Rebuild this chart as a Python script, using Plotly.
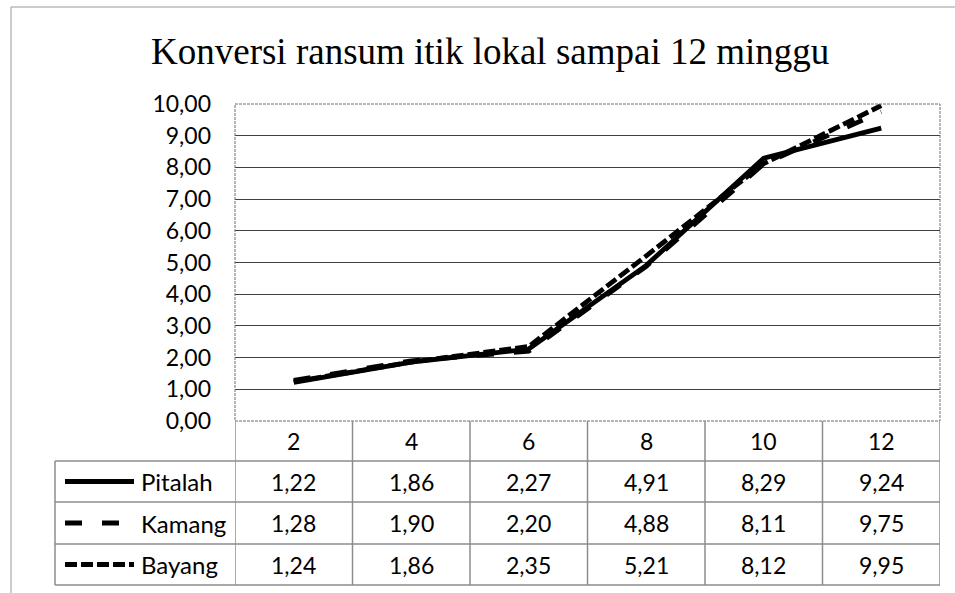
import plotly.graph_objects as go

# Feed conversion of local ducks over 12 weeks
weeks = ["2", "4", "6", "8", "10", "12"]
series_names = ["Pitalah", "Kamang", "Bayang"]
pitalah = [1.22, 1.86, 2.27, 4.91, 8.29, 9.24]
kamang = [1.28, 1.90, 2.20, 4.88, 8.11, 9.75]
bayang = [1.24, 1.86, 2.35, 5.21, 8.12, 9.95]
y_ticks = [0, 1, 2, 3, 4, 5, 6, 7, 8, 9, 10]

series_values = [pitalah, kamang, bayang]
series_dash = ["solid", "17px,20px", "12px,4px"]

W, H = 955, 593
PL, PR, PT, PB = 235, 940, 104, 421  # plot area edges in pixels


def fx(p):
    return (p - PL) / (PR - PL)


def fy(p):
    return (PB - p) / (PB - PT)


TXT = "Lato, 'Open Sans', sans-serif"
GRID = "#8c8c8c"

fig = go.Figure()
for name, vals, dash in zip(series_names, series_values, series_dash):
    fig.add_trace(go.Scatter(
        x=weeks, y=vals, name=name, mode="lines",
        line=dict(color="black", width=4.8, dash=dash),
        cliponaxis=False, showlegend=False,
    ))

shapes = []
annotations = []

# chart area frame
shapes.append(dict(type="rect", xref="paper", yref="paper",
                   x0=fx(11), x1=fx(970), y0=fy(7), y1=fy(610),
                   line=dict(color="#9a9a9a", width=1), layer="below"))
# hide the solid grid at 0 and 10 under the dashed plot frame
for yv in (0, 1):
    shapes.append(dict(type="line", xref="paper", yref="paper",
                       x0=0, x1=1, y0=yv, y1=yv,
                       line=dict(color="white", width=2), layer="between"))
# dashed plot area frame
shapes.append(dict(type="rect", xref="paper", yref="paper",
                   x0=0, x1=1, y0=0, y1=1,
                   line=dict(color="#6f6f6f", width=1, dash="3px,1px")))

# data table
row_edges = [421, 461, 502, 544, 585]
for p in row_edges[1:]:
    shapes.append(dict(type="line", xref="paper", yref="paper",
                       x0=fx(55), x1=1, y0=fy(p), y1=fy(p),
                       line=dict(color=GRID, width=1.5)))
for j in range(len(weeks) + 1):
    shapes.append(dict(type="line", xref="x", yref="paper",
                       x0=j - 0.5, x1=j - 0.5, y0=fy(421), y1=fy(585),
                       line=dict(color=GRID, width=1.5)))
shapes.append(dict(type="line", xref="paper", yref="paper",
                   x0=fx(55), x1=fx(55), y0=fy(461), y1=fy(585),
                   line=dict(color=GRID, width=1.5)))

# header row: week numbers
hc = (row_edges[0] + row_edges[1]) / 2
for j, w in enumerate(weeks):
    annotations.append(dict(x=j, y=fy(hc), xref="x", yref="paper", text=w,
                            showarrow=False, xanchor="center", yanchor="middle",
                            font=dict(family=TXT, size=23, color="black")))

# value rows with legend keys
for i, (name, vals, dash) in enumerate(zip(series_names, series_values, series_dash)):
    rc = (row_edges[i + 1] + row_edges[i + 2]) / 2
    shapes.append(dict(type="line", xref="paper", yref="paper",
                       x0=fx(65), x1=fx(134), y0=fy(rc), y1=fy(rc),
                       line=dict(color="black", width=4.8, dash=dash)))
    annotations.append(dict(x=fx(139), y=fy(rc), xref="paper", yref="paper",
                            text=name, showarrow=False, xanchor="left", yanchor="middle",
                            font=dict(family=TXT, size=24, color="black")))
    for j, v in enumerate(vals):
        annotations.append(dict(x=j, y=fy(rc), xref="x", yref="paper",
                                text=f"{v:.2f}".replace(".", ","), showarrow=False,
                                xanchor="center", yanchor="middle",
                                font=dict(family=TXT, size=23, color="black")))

# title
annotations.append(dict(x=fx(490), y=fy(52), xref="paper", yref="paper",
                        text="Konversi ransum itik lokal sampai 12 minggu",
                        showarrow=False, xanchor="center", yanchor="middle",
                        font=dict(family="'Liberation Serif', 'Times New Roman', serif",
                                  size=37, color="black")))

fig.update_layout(
    width=W, height=H,
    margin=dict(l=PL, r=W - PR, t=PT, b=H - PB, pad=0),
    paper_bgcolor="white", plot_bgcolor="white",
    separators=",.",
    shapes=shapes, annotations=annotations,
    xaxis=dict(type="category", range=[-0.5, len(weeks) - 0.5],
               showticklabels=False, showgrid=False, zeroline=False,
               showline=False, ticks=""),
    yaxis=dict(range=[0, 10], tickvals=y_ticks, tickformat=".2f",
               showgrid=True, gridcolor="#404040", gridwidth=1,
               zeroline=False, showline=False, ticks="",
               ticklabelstandoff=23,
               tickfont=dict(family=TXT, size=23, color="black")),
)

fig.write_html("out.html")
